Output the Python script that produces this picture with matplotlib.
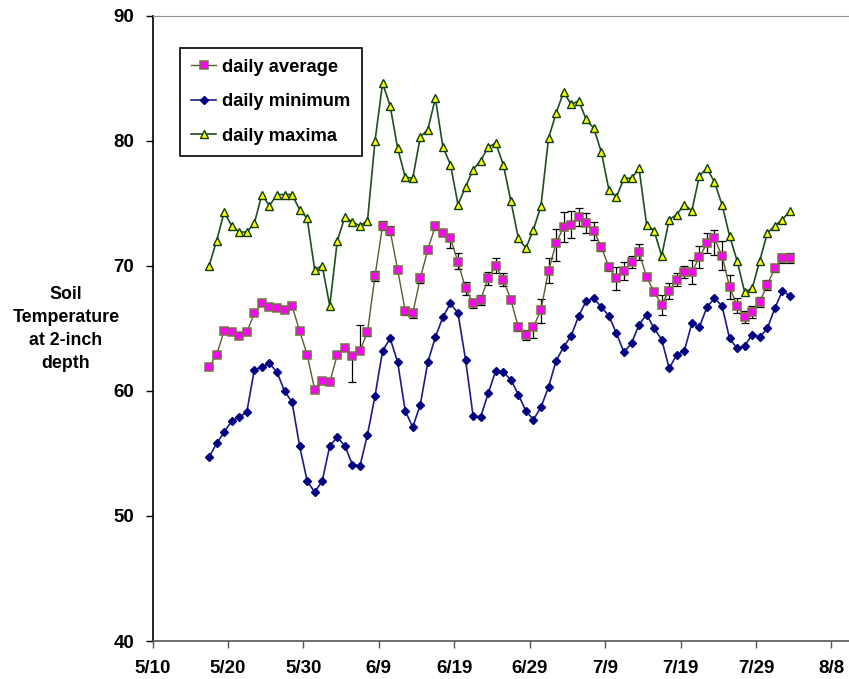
import pandas as pd
import matplotlib
matplotlib.use("Agg")
import matplotlib.pyplot as plt

# daily readings, one per day starting 5/17 (plotted at midday)
start = "2000-05-17 12:00"

daily_avg = [61.9, 62.9, 64.8, 64.7, 64.4, 64.7, 66.2, 67.0, 66.7, 66.6,
             66.5, 66.8, 64.8, 62.9, 60.1, 60.8, 60.7, 62.9, 63.4, 62.8,
             63.2, 64.7, 69.2, 73.2, 72.8, 69.7, 66.4, 66.2, 69.0, 71.3,
             73.2, 72.6, 72.2, 70.3, 68.2, 67.0, 67.3, 69.0, 70.0, 68.9,
             67.3, 65.1, 64.5, 65.1, 66.5, 69.6, 71.8, 73.1, 73.3, 73.9,
             73.4, 72.8, 71.5, 69.9, 69.0, 69.6, 70.3, 71.1, 69.1, 67.9,
             66.9, 68.0, 68.9, 69.5, 69.5, 70.7, 71.8, 72.2, 70.8, 68.3,
             66.8, 65.9, 66.3, 67.1, 68.5, 69.8, 70.6, 70.6]

err_lo = [0, 0, 0, 0, 0, 0, 0, 0, 0, 0,
          0, 0, 0, 0, 0, 0, 0, 0, 0, 2.1,
          0, 0.3, 0.4, 0.3, 0.3, 0.3, 0.3, 0.35, 0.35, 0.3,
          0.3, 0.2, 0.8, 0.55, 0.5, 0.35, 0.4, 0.5, 0.6, 0.55,
          0.3, 0.3, 0.4, 0.9, 1.1, 1.0, 1.4, 1.2, 1.05, 0.7,
          0.8, 0.7, 0.3, 0.3, 0.9, 0.7, 0.5, 0.65, 0.2, 0.25,
          0.8, 0.65, 0.55, 0.5, 0.95, 0.9, 0.8, 1.3, 1.15, 0.95,
          0.6, 0.45, 0.45, 0.4, 0.4, 0.3, 0.35, 0.4]

err_hi = [0, 0, 0, 0, 0, 0, 0, 0, 0, 0,
          0, 0, 0, 0, 0, 0, 0, 0, 0, 0,
          2.1, 0.3, 0.4, 0.4, 0.4, 0.3, 0.3, 0.35, 0.35, 0.3,
          0.3, 0.2, 0.2, 0.7, 0.5, 0.35, 0.4, 0.5, 0.6, 0.55,
          0.3, 0.3, 0.4, 0.3, 0.85, 1.0, 1.15, 1.2, 1.05, 0.7,
          0.8, 0.7, 0.3, 0.3, 0.9, 0.7, 0.5, 0.65, 0.2, 0.25,
          0.8, 0.65, 0.55, 0.5, 0.95, 0.9, 0.8, 0.7, 1.15, 0.95,
          0.6, 0.45, 0.45, 0.4, 0.4, 0.3, 0.35, 0.4]

daily_min = [54.7, 55.8, 56.7, 57.6, 57.9, 58.3, 61.7, 61.9, 62.2, 61.5,
             60.0, 59.1, 55.6, 52.8, 51.9, 52.8, 55.6, 56.3, 55.6, 54.1,
             54.0, 56.5, 59.6, 63.2, 64.2, 62.3, 58.4, 57.1, 58.9, 62.3,
             64.3, 65.9, 67.0, 66.2, 62.5, 58.0, 57.9, 59.8, 61.6, 61.5,
             60.9, 59.7, 58.4, 57.7, 58.7, 60.3, 62.4, 63.5, 64.4, 66.0,
             67.2, 67.4, 66.7, 66.0, 64.6, 63.1, 63.8, 65.3, 66.1, 65.0,
             64.1, 61.8, 62.9, 63.2, 65.4, 65.1, 66.7, 67.4, 66.8, 64.2,
             63.4, 63.6, 64.5, 64.3, 65.0, 66.6, 68.0, 67.6]

daily_max = [70.0, 72.0, 74.3, 73.2, 72.7, 72.7, 73.4, 75.7, 74.8, 75.7,
             75.7, 75.7, 74.5, 73.8, 69.7, 70.0, 66.8, 72.0, 73.9, 73.5,
             73.2, 73.6, 80.0, 84.6, 82.8, 79.4, 77.1, 77.0, 80.3, 80.9,
             83.4, 79.5, 78.1, 74.9, 76.3, 77.7, 78.4, 79.5, 79.8, 78.1,
             75.2, 72.2, 71.4, 72.9, 74.8, 80.2, 82.2, 83.9, 82.9, 83.2,
             81.7, 81.0, 79.1, 76.1, 75.5, 77.0, 77.0, 77.8, 73.3, 72.8,
             70.8, 73.7, 74.1, 74.9, 74.4, 77.2, 77.8, 76.7, 74.9, 72.4,
             70.4, 67.9, 68.2, 70.4, 72.6, 73.2, 73.7, 74.4]

tick_dates = pd.date_range("2000-05-10", periods=10, freq="10D")
tick_labels = [f"{d.month}/{d.day}" for d in tick_dates]

days = pd.date_range(start, periods=len(daily_avg), freq="D")

plt.rcParams["font.family"] = ["Liberation Sans", "DejaVu Sans"]
plt.rcParams["font.weight"] = "bold"

fig = plt.figure(figsize=(8.49, 6.79), dpi=100)
ax = fig.add_axes([152.5 / 849, 38 / 679, 696.5 / 849, 625.3 / 679])

# error bars first, then the series lines on top
ax.errorbar(days, daily_avg, yerr=[err_lo, err_hi], fmt="none",
            ecolor="black", elinewidth=0.9, capsize=2.8, capthick=0.9,
            zorder=2)
h_avg, = ax.plot(days, daily_avg, color="#5e5a2c", lw=1.0, marker="s",
                 ms=5.5, mfc="#ff00ff", mec="#7a6e46", mew=1.1,
                 label="daily average", zorder=4)
h_min, = ax.plot(days, daily_min, color="#1a1a8c", lw=1.2, marker="D",
                 ms=4.2, mfc="#000080", mec="#000080",
                 label="daily minimum", zorder=3)
h_max, = ax.plot(days, daily_max, color="#1f4d1f", lw=1.2, marker="^",
                 ms=6.0, mfc="#ffff00", mec="#0b3d0b", mew=1.0,
                 label="daily maxima", zorder=3)

ax.set_xlim(pd.Timestamp("2000-05-10"), pd.Timestamp("2000-08-10 08:00"))
ax.set_ylim(40, 90)
ax.set_yticks([40, 50, 60, 70, 80, 90])
ax.set_xticks(tick_dates)
ax.set_xticklabels(tick_labels)
ax.tick_params(axis="both", labelsize=13.5, direction="out", length=5,
               width=1.0, colors="black")
ax.tick_params(axis="x", pad=9, color="#555555")
ax.tick_params(axis="y", pad=8)

ax.spines["right"].set_visible(False)
ax.spines["top"].set_color("#909090")
ax.spines["left"].set_linewidth(1.2)
ax.spines["bottom"].set_color("#555555")
ax.spines["bottom"].set_linewidth(1.2)

fig.text(66 / 849, 1 - 329 / 679, "Soil\nTemperature\nat 2-inch\ndepth",
         ha="center", va="center", fontsize=12.8, fontweight="bold",
         linespacing=1.45)

leg = ax.legend(handles=[h_avg, h_min, h_max], loc="upper left",
                bbox_to_anchor=(180.3 / 849, 1 - 47.7 / 679),
                bbox_transform=fig.transFigure, borderaxespad=0,
                fontsize=13.2, numpoints=1, handlelength=1.35,
                handletextpad=0.35, labelspacing=0.95, borderpad=0.6,
                fancybox=False, framealpha=1)
leg.get_frame().set_edgecolor("black")
leg.get_frame().set_linewidth(1.2)
for t in leg.get_texts():
    t.set_fontweight("bold")

fig.savefig("out.png", dpi=100)
